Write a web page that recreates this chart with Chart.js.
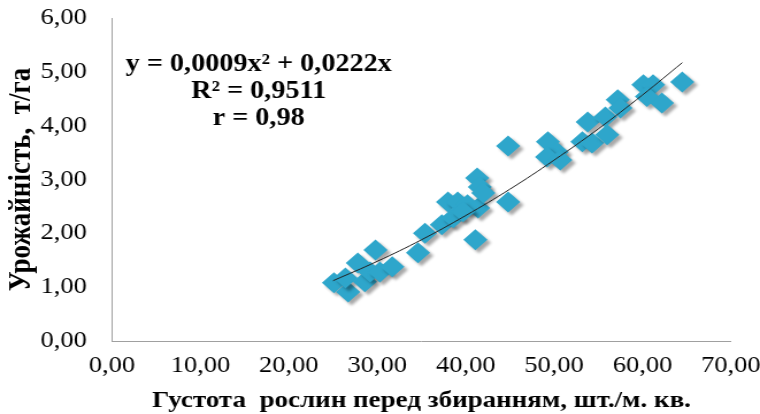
<!DOCTYPE html>
<html>
<head>
<meta charset="utf-8">
<script src="https://cdn.jsdelivr.net/npm/chart.js@4/dist/chart.umd.min.js"></script>
<style>
  html, body { margin: 0; padding: 0; background: #fff; }
  #wrap { width: 760px; height: 414px; }
</style>
</head>
<body>
<div id="wrap"><canvas id="chart" width="661" height="414" style="width:760px;height:414px"></canvas></div>
<script>
// density before harvest (plants/m2) and yield (t/ha)
const densityX = [25.1, 26.7, 26.4, 27.8, 29.8, 28.6, 29.2, 30.3, 31.7,
  34.6, 35.4, 37.3, 38.0, 39.1, 40.2, 41.4, 41.1, 41.3, 41.6, 42.0, 44.8, 44.8, 38.6, 39.7,
  49.3, 50.3, 49.2, 50.7, 53.2, 53.8, 54.3, 55.8, 56.0, 57.2, 57.5,
  60.1, 61.2, 60.5, 62.2, 64.5];
const yieldY = [1.08, 0.91, 1.17, 1.45, 1.69, 1.10, 1.28, 1.28, 1.38,
  1.64, 2.00, 2.16, 2.58, 2.58, 2.53, 2.47, 1.88, 3.03, 2.86, 2.75, 2.58, 3.62, 2.29, 2.40,
  3.70, 3.51, 3.42, 3.36, 3.70, 4.07, 3.68, 4.16, 3.83, 4.48, 4.33,
  4.76, 4.76, 4.54, 4.42, 4.81];
// trend line
const trendX = [25, 30, 35, 40, 45, 50, 55, 60, 64.5];
const trendY = [1.12, 1.48, 1.88, 2.33, 2.82, 3.36, 3.94, 4.57, 5.17];
const eqLines = ["y = 0,0009x² + 0,0222x", "R² = 0,9511", "r = 0,98"];

const serif = "'Liberation Serif', 'Times New Roman', serif";
const fmt = (v) => v.toFixed(2).replace(".", ",");

const shadowPlugin = {
  id: "shadow",
  beforeDatasetDraw(chart, args) {
    const ctx = chart.ctx;
    ctx.save();
    if (args.index === 1) {
      ctx.shadowColor = "rgba(0,0,0,0.35)";
      ctx.shadowBlur = 3;
      ctx.shadowOffsetX = 3;
      ctx.shadowOffsetY = 3;
    }
  },
  afterDatasetDraw(chart) {
    chart.ctx.restore();
  },
};

const eqPlugin = {
  id: "eq",
  afterDraw(chart) {
    const ctx = chart.ctx;
    ctx.save();
    ctx.font = "bold 24.5px " + serif;
    ctx.fillStyle = "#000";
    ctx.textAlign = "center";
    ctx.textBaseline = "middle";
    eqLines.forEach((t, i) => ctx.fillText(t, 225, 65 + i * 27));
    ctx.restore();
  },
};

new Chart(document.getElementById("chart"), {
  type: "scatter",
  data: {
    datasets: [
      {
        type: "line",
        data: trendX.map((x, i) => ({ x: x, y: trendY[i] })),
        borderColor: "#222",
        borderWidth: 1,
        pointRadius: 0,
        tension: 0.4,
        fill: false,
      },
      {
        data: densityX.map((x, i) => ({ x: x, y: yieldY[i] })),
        pointStyle: "rectRot",
        pointRadius: 10.5,
        pointHoverRadius: 10.5,
        backgroundColor: "#2ea6cb",
        borderColor: "#2ea6cb",
        borderWidth: 0,
      },
    ],
  },
  options: {
    responsive: false,
    animation: false,
    layout: { autoPadding: false, padding: 0 },
    plugins: { legend: { display: false }, tooltip: { enabled: false } },
    scales: {
      x: {
        type: "linear",
        min: 0,
        max: 70,
        grid: { display: false, drawTicks: false },
        border: { color: "#a0a0a0", width: 1 },
        ticks: {
          stepSize: 10,
          padding: 12,
          color: "#000",
          font: { family: serif, size: 23, lineHeight: 1.15 },
          callback: (v) => fmt(v),
        },
        title: {
          display: true,
          text: "Густота  рослин перед збиранням, шт./м. кв.",
          color: "#000",
          font: { family: serif, size: 23.5, weight: "bold", lineHeight: 1 },
          padding: { top: 0, bottom: 1 },
        },
        afterFit: (s) => {
          s.height = 73;
          s.paddingLeft = 0;
          s.paddingRight = 25.3;
        },
      },
      y: {
        min: 0,
        max: 6,
        grid: { display: false, drawTicks: false },
        border: { color: "#a0a0a0", width: 1 },
        ticks: {
          stepSize: 1,
          padding: 22,
          color: "#000",
          font: { family: serif, size: 23 },
          callback: (v) => fmt(v),
        },
        title: {
          display: true,
          text: "Урожайність,  т/га",
          color: "#000",
          font: { family: serif, size: 27, weight: "bold", lineHeight: 1 },
          padding: { top: 5.5, bottom: 0 },
        },
        afterFit: (s) => {
          s.width = 97.4;
          s.paddingTop = 18;
          s.paddingBottom = 0;
        },
      },
    },
  },
  plugins: [shadowPlugin, eqPlugin],
});
</script>
</body>
</html>
